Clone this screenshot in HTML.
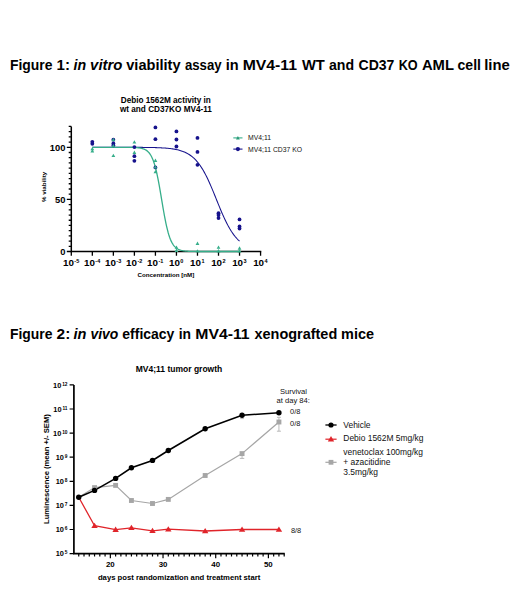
<!DOCTYPE html>
<html><head><meta charset="utf-8"><style>
html,body{margin:0;padding:0;background:#fff;}
body{width:520px;height:589px;overflow:hidden;position:relative;font-family:"Liberation Sans",sans-serif;}
svg{position:absolute;left:0;top:0;}
</style></head><body>
<svg width="520" height="589" viewBox="0 0 520 589">
<text x="9.97" y="70.3" font-family="'Liberation Sans', sans-serif" font-weight="bold" font-size="14.4" fill="#000" textLength="42.51" lengthAdjust="spacingAndGlyphs">Figure</text>
<text x="56.55" y="70.3" font-family="'Liberation Sans', sans-serif" font-weight="bold" font-size="14.4" fill="#000" textLength="13.40" lengthAdjust="spacingAndGlyphs">1:</text>
<text x="73.46" y="70.3" font-family="'Liberation Sans', sans-serif" font-weight="bold" font-style="italic" font-size="14.4" fill="#000" textLength="12.64" lengthAdjust="spacingAndGlyphs">in</text>
<text x="90.10" y="70.3" font-family="'Liberation Sans', sans-serif" font-weight="bold" font-style="italic" font-size="14.4" fill="#000" textLength="32.28" lengthAdjust="spacingAndGlyphs">vitro</text>
<text x="126.24" y="70.3" font-family="'Liberation Sans', sans-serif" font-weight="bold" font-size="14.4" fill="#000" textLength="54.34" lengthAdjust="spacingAndGlyphs">viability</text>
<text x="184.91" y="70.3" font-family="'Liberation Sans', sans-serif" font-weight="bold" font-size="14.4" fill="#000" textLength="36.76" lengthAdjust="spacingAndGlyphs">assay</text>
<text x="225.79" y="70.3" font-family="'Liberation Sans', sans-serif" font-weight="bold" font-size="14.4" fill="#000" textLength="12.92" lengthAdjust="spacingAndGlyphs">in</text>
<text x="242.66" y="70.3" font-family="'Liberation Sans', sans-serif" font-weight="bold" font-size="14.4" fill="#000" textLength="54.37" lengthAdjust="spacingAndGlyphs">MV4-11</text>
<text x="301.99" y="70.3" font-family="'Liberation Sans', sans-serif" font-weight="bold" font-size="14.4" fill="#000" textLength="22.87" lengthAdjust="spacingAndGlyphs">WT</text>
<text x="328.89" y="70.3" font-family="'Liberation Sans', sans-serif" font-weight="bold" font-size="14.4" fill="#000" textLength="25.15" lengthAdjust="spacingAndGlyphs">and</text>
<text x="358.52" y="70.3" font-family="'Liberation Sans', sans-serif" font-weight="bold" font-size="14.4" fill="#000" textLength="35.89" lengthAdjust="spacingAndGlyphs">CD37</text>
<text x="398.65" y="70.3" font-family="'Liberation Sans', sans-serif" font-weight="bold" font-size="14.4" fill="#000" textLength="18.98" lengthAdjust="spacingAndGlyphs">KO</text>
<text x="421.93" y="70.3" font-family="'Liberation Sans', sans-serif" font-weight="bold" font-size="14.4" fill="#000" textLength="32.02" lengthAdjust="spacingAndGlyphs">AML</text>
<text x="457.55" y="70.3" font-family="'Liberation Sans', sans-serif" font-weight="bold" font-size="14.4" fill="#000" textLength="23.44" lengthAdjust="spacingAndGlyphs">cell</text>
<text x="484.26" y="70.3" font-family="'Liberation Sans', sans-serif" font-weight="bold" font-size="14.4" fill="#000" textLength="25.54" lengthAdjust="spacingAndGlyphs">line</text>
<text x="9.97" y="338.8" font-family="'Liberation Sans', sans-serif" font-weight="bold" font-size="14.4" fill="#000" textLength="42.51" lengthAdjust="spacingAndGlyphs">Figure</text>
<text x="56.57" y="338.8" font-family="'Liberation Sans', sans-serif" font-weight="bold" font-size="14.4" fill="#000" textLength="13.72" lengthAdjust="spacingAndGlyphs">2:</text>
<text x="73.45" y="338.8" font-family="'Liberation Sans', sans-serif" font-weight="bold" font-style="italic" font-size="14.4" fill="#000" textLength="12.96" lengthAdjust="spacingAndGlyphs">in</text>
<text x="90.45" y="338.8" font-family="'Liberation Sans', sans-serif" font-weight="bold" font-style="italic" font-size="14.4" fill="#000" textLength="27.90" lengthAdjust="spacingAndGlyphs">vivo</text>
<text x="122.35" y="338.8" font-family="'Liberation Sans', sans-serif" font-weight="bold" font-size="14.4" fill="#000" textLength="52.02" lengthAdjust="spacingAndGlyphs">efficacy</text>
<text x="178.73" y="338.8" font-family="'Liberation Sans', sans-serif" font-weight="bold" font-size="14.4" fill="#000" textLength="12.33" lengthAdjust="spacingAndGlyphs">in</text>
<text x="195.26" y="338.8" font-family="'Liberation Sans', sans-serif" font-weight="bold" font-size="14.4" fill="#000" textLength="54.37" lengthAdjust="spacingAndGlyphs">MV4-11</text>
<text x="254.50" y="338.8" font-family="'Liberation Sans', sans-serif" font-weight="bold" font-size="14.4" fill="#000" textLength="82.75" lengthAdjust="spacingAndGlyphs">xenografted</text>
<text x="341.05" y="338.8" font-family="'Liberation Sans', sans-serif" font-weight="bold" font-size="14.4" fill="#000" textLength="32.95" lengthAdjust="spacingAndGlyphs">mice</text>
<text x="165.8" y="102.5" font-family="'Liberation Sans', sans-serif" font-weight="bold" font-size="8.2" fill="#000" text-anchor="middle">Debio 1562M activity in</text>
<text x="165.9" y="111.9" font-family="'Liberation Sans', sans-serif" font-weight="bold" font-size="8.2" fill="#000" text-anchor="middle">wt and CD37KO MV4-11</text>
<path d="M71.3,126.46 V251.5 H261.27" fill="none" stroke="#000" stroke-width="1.5"/>
<path d="M66.80,251.50 H71.3 M68.70,246.29 H71.3 M68.70,241.08 H71.3 M68.70,235.87 H71.3 M68.70,230.66 H71.3 M68.70,225.45 H71.3 M68.70,220.24 H71.3 M68.70,215.03 H71.3 M68.70,209.82 H71.3 M68.70,204.61 H71.3 M66.80,199.40 H71.3 M68.70,194.19 H71.3 M68.70,188.98 H71.3 M68.70,183.77 H71.3 M68.70,178.56 H71.3 M68.70,173.35 H71.3 M68.70,168.14 H71.3 M68.70,162.93 H71.3 M68.70,157.72 H71.3 M68.70,152.51 H71.3 M66.80,147.30 H71.3 M68.70,142.09 H71.3 M68.70,136.88 H71.3 M68.70,131.67 H71.3 M68.70,126.46 H71.3 M71.30,251.5 V255.70 M92.33,251.5 V255.70 M113.36,251.5 V255.70 M134.39,251.5 V255.70 M155.42,251.5 V255.70 M176.45,251.5 V255.70 M197.48,251.5 V255.70 M218.51,251.5 V255.70 M239.54,251.5 V255.70 M260.57,251.5 V255.70" stroke="#000" stroke-width="1.3" fill="none"/>
<text x="65.5" y="254.90" font-family="'Liberation Sans', sans-serif" font-weight="bold" font-size="9.4" fill="#000" text-anchor="end">0</text>
<text x="65.5" y="202.80" font-family="'Liberation Sans', sans-serif" font-weight="bold" font-size="9.4" fill="#000" text-anchor="end">50</text>
<text x="65.5" y="150.70" font-family="'Liberation Sans', sans-serif" font-weight="bold" font-size="9.4" fill="#000" text-anchor="end">100</text>
<text x="71.10" y="266.3" font-family="'Liberation Sans', sans-serif" font-weight="bold" font-size="9.8" fill="#000" text-anchor="middle">10<tspan dx="0.4" dy="-3.6" font-size="5.5">-5</tspan></text>
<text x="92.13" y="266.3" font-family="'Liberation Sans', sans-serif" font-weight="bold" font-size="9.8" fill="#000" text-anchor="middle">10<tspan dx="0.4" dy="-3.6" font-size="5.5">-4</tspan></text>
<text x="113.16" y="266.3" font-family="'Liberation Sans', sans-serif" font-weight="bold" font-size="9.8" fill="#000" text-anchor="middle">10<tspan dx="0.4" dy="-3.6" font-size="5.5">-3</tspan></text>
<text x="134.19" y="266.3" font-family="'Liberation Sans', sans-serif" font-weight="bold" font-size="9.8" fill="#000" text-anchor="middle">10<tspan dx="0.4" dy="-3.6" font-size="5.5">-2</tspan></text>
<text x="155.22" y="266.3" font-family="'Liberation Sans', sans-serif" font-weight="bold" font-size="9.8" fill="#000" text-anchor="middle">10<tspan dx="0.4" dy="-3.6" font-size="5.5">-1</tspan></text>
<text x="176.25" y="266.3" font-family="'Liberation Sans', sans-serif" font-weight="bold" font-size="9.8" fill="#000" text-anchor="middle">10<tspan dx="0.4" dy="-3.6" font-size="5.5">0</tspan></text>
<text x="197.28" y="266.3" font-family="'Liberation Sans', sans-serif" font-weight="bold" font-size="9.8" fill="#000" text-anchor="middle">10<tspan dx="0.4" dy="-3.6" font-size="5.5">1</tspan></text>
<text x="218.31" y="266.3" font-family="'Liberation Sans', sans-serif" font-weight="bold" font-size="9.8" fill="#000" text-anchor="middle">10<tspan dx="0.4" dy="-3.6" font-size="5.5">2</tspan></text>
<text x="239.34" y="266.3" font-family="'Liberation Sans', sans-serif" font-weight="bold" font-size="9.8" fill="#000" text-anchor="middle">10<tspan dx="0.4" dy="-3.6" font-size="5.5">3</tspan></text>
<text x="260.37" y="266.3" font-family="'Liberation Sans', sans-serif" font-weight="bold" font-size="9.8" fill="#000" text-anchor="middle">10<tspan dx="0.4" dy="-3.6" font-size="5.5">4</tspan></text>
<text x="165.9" y="276.6" font-family="'Liberation Sans', sans-serif" font-weight="bold" font-size="6.2" fill="#000" text-anchor="middle">Concentration [nM]</text>
<text transform="translate(45.7,186.9) rotate(-90)" font-family="'Liberation Sans', sans-serif" font-weight="bold" font-size="6.2" fill="#000" text-anchor="middle">% viability</text>
<path d="M92.33,147.30 L93.07,147.30 L93.80,147.30 L94.54,147.30 L95.27,147.30 L96.01,147.30 L96.75,147.30 L97.48,147.30 L98.22,147.30 L98.95,147.30 L99.69,147.30 L100.43,147.30 L101.16,147.30 L101.90,147.30 L102.63,147.30 L103.37,147.30 L104.11,147.30 L104.84,147.30 L105.58,147.30 L106.31,147.30 L107.05,147.30 L107.79,147.30 L108.52,147.30 L109.26,147.30 L110.00,147.30 L110.73,147.30 L111.47,147.30 L112.20,147.31 L112.94,147.31 L113.68,147.31 L114.41,147.31 L115.15,147.31 L115.88,147.31 L116.62,147.31 L117.36,147.31 L118.09,147.31 L118.83,147.31 L119.56,147.31 L120.30,147.31 L121.04,147.31 L121.77,147.31 L122.51,147.31 L123.24,147.31 L123.98,147.32 L124.72,147.32 L125.45,147.32 L126.19,147.32 L126.92,147.32 L127.66,147.32 L128.40,147.32 L129.13,147.33 L129.87,147.33 L130.60,147.33 L131.34,147.33 L132.08,147.33 L132.81,147.34 L133.55,147.34 L134.28,147.34 L135.02,147.34 L135.76,147.35 L136.49,147.35 L137.23,147.36 L137.97,147.36 L138.70,147.36 L139.44,147.37 L140.17,147.37 L140.91,147.38 L141.65,147.38 L142.38,147.39 L143.12,147.40 L143.85,147.40 L144.59,147.41 L145.33,147.42 L146.06,147.43 L146.80,147.44 L147.53,147.45 L148.27,147.46 L149.01,147.47 L149.74,147.48 L150.48,147.49 L151.21,147.51 L151.95,147.52 L152.69,147.54 L153.42,147.56 L154.16,147.58 L154.89,147.60 L155.63,147.62 L156.37,147.64 L157.10,147.67 L157.84,147.69 L158.57,147.72 L159.31,147.75 L160.05,147.78 L160.78,147.82 L161.52,147.86 L162.25,147.90 L162.99,147.94 L163.73,147.98 L164.46,148.03 L165.20,148.09 L165.94,148.14 L166.67,148.20 L167.41,148.27 L168.14,148.34 L168.88,148.41 L169.62,148.49 L170.35,148.58 L171.09,148.67 L171.82,148.77 L172.56,148.88 L173.30,148.99 L174.03,149.11 L174.77,149.24 L175.50,149.37 L176.24,149.52 L176.98,149.68 L177.71,149.85 L178.45,150.03 L179.18,150.22 L179.92,150.43 L180.66,150.65 L181.39,150.88 L182.13,151.13 L182.86,151.40 L183.60,151.69 L184.34,151.99 L185.07,152.31 L185.81,152.66 L186.54,153.03 L187.28,153.42 L188.02,153.83 L188.75,154.28 L189.49,154.75 L190.22,155.25 L190.96,155.78 L191.70,156.34 L192.43,156.94 L193.17,157.57 L193.90,158.23 L194.64,158.94 L195.38,159.69 L196.11,160.47 L196.85,161.30 L197.59,162.17 L198.32,163.09 L199.06,164.05 L199.79,165.06 L200.53,166.12 L201.27,167.22 L202.00,168.38 L202.74,169.58 L203.47,170.83 L204.21,172.13 L204.95,173.48 L205.68,174.88 L206.42,176.33 L207.15,177.82 L207.89,179.35 L208.63,180.93 L209.36,182.55 L210.10,184.20 L210.83,185.89 L211.57,187.61 L212.31,189.35 L213.04,191.12 L213.78,192.91 L214.51,194.72 L215.25,196.53 L215.99,198.36 L216.72,200.18 L217.46,202.01 L218.19,203.83 L218.93,205.63 L219.67,207.42 L220.40,209.20 L221.14,210.95 L221.87,212.67 L222.61,214.36 L223.35,216.02 L224.08,217.64 L224.82,219.22 L225.56,220.77 L226.29,222.26 L227.03,223.71 L227.76,225.12 L228.50,226.48 L229.24,227.79 L229.97,229.05 L230.71,230.26 L231.44,231.42 L232.18,232.53 L232.92,233.59 L233.65,234.61 L234.39,235.58 L235.12,236.50 L235.86,237.38 L236.60,238.21 L237.33,239.00 L238.07,239.76 L238.80,240.47 L239.54,241.14" fill="none" stroke="#16128c" stroke-width="1.05"/>
<path d="M92.33,147.30 L93.07,147.30 L93.80,147.30 L94.54,147.30 L95.27,147.30 L96.01,147.30 L96.75,147.30 L97.48,147.30 L98.22,147.30 L98.95,147.30 L99.69,147.30 L100.43,147.30 L101.16,147.30 L101.90,147.30 L102.63,147.30 L103.37,147.30 L104.11,147.30 L104.84,147.30 L105.58,147.30 L106.31,147.30 L107.05,147.30 L107.79,147.30 L108.52,147.30 L109.26,147.30 L110.00,147.30 L110.73,147.30 L111.47,147.30 L112.20,147.30 L112.94,147.30 L113.68,147.30 L114.41,147.30 L115.15,147.30 L115.88,147.30 L116.62,147.30 L117.36,147.30 L118.09,147.30 L118.83,147.31 L119.56,147.31 L120.30,147.31 L121.04,147.31 L121.77,147.31 L122.51,147.31 L123.24,147.32 L123.98,147.32 L124.72,147.32 L125.45,147.33 L126.19,147.33 L126.92,147.34 L127.66,147.34 L128.40,147.35 L129.13,147.36 L129.87,147.37 L130.60,147.38 L131.34,147.40 L132.08,147.42 L132.81,147.44 L133.55,147.46 L134.28,147.49 L135.02,147.53 L135.76,147.57 L136.49,147.62 L137.23,147.68 L137.97,147.75 L138.70,147.83 L139.44,147.93 L140.17,148.05 L140.91,148.18 L141.65,148.34 L142.38,148.53 L143.12,148.76 L143.85,149.02 L144.59,149.33 L145.33,149.70 L146.06,150.13 L146.80,150.64 L147.53,151.23 L148.27,151.92 L149.01,152.73 L149.74,153.67 L150.48,154.76 L151.21,156.02 L151.95,157.47 L152.69,159.13 L153.42,161.03 L154.16,163.17 L154.89,165.58 L155.63,168.28 L156.37,171.26 L157.10,174.52 L157.84,178.06 L158.57,181.85 L159.31,185.86 L160.05,190.05 L160.78,194.38 L161.52,198.77 L162.25,203.17 L162.99,207.52 L163.73,211.76 L164.46,215.83 L165.20,219.68 L165.94,223.30 L166.67,226.64 L167.41,229.70 L168.14,232.48 L168.88,234.97 L169.62,237.19 L170.35,239.15 L171.09,240.88 L171.82,242.39 L172.56,243.70 L173.30,244.84 L174.03,245.82 L174.77,246.66 L175.50,247.39 L176.24,248.00 L176.98,248.53 L177.71,248.98 L178.45,249.37 L179.18,249.69 L179.92,249.97 L180.66,250.21 L181.39,250.41 L182.13,250.57 L182.86,250.72 L183.60,250.84 L184.34,250.94 L185.07,251.03 L185.81,251.10 L186.54,251.16 L187.28,251.22 L188.02,251.26 L188.75,251.30 L189.49,251.33 L190.22,251.36 L190.96,251.38 L191.70,251.40 L192.43,251.41 L193.17,251.43 L193.90,251.44 L194.64,251.45 L195.38,251.46 L196.11,251.46 L196.85,251.47 L197.59,251.47 L198.32,251.48 L199.06,251.48 L199.79,251.48 L200.53,251.49 L201.27,251.49 L202.00,251.49 L202.74,251.49 L203.47,251.49 L204.21,251.49 L204.95,251.50 L205.68,251.50 L206.42,251.50 L207.15,251.50 L207.89,251.50 L208.63,251.50 L209.36,251.50 L210.10,251.50 L210.83,251.50 L211.57,251.50 L212.31,251.50 L213.04,251.50 L213.78,251.50 L214.51,251.50 L215.25,251.50 L215.99,251.50 L216.72,251.50 L217.46,251.50 L218.19,251.50 L218.93,251.50 L219.67,251.50 L220.40,251.50 L221.14,251.50 L221.87,251.50 L222.61,251.50 L223.35,251.50 L224.08,251.50 L224.82,251.50 L225.56,251.50 L226.29,251.50 L227.03,251.50 L227.76,251.50 L228.50,251.50 L229.24,251.50 L229.97,251.50 L230.71,251.50 L231.44,251.50 L232.18,251.50 L232.92,251.50 L233.65,251.50 L234.39,251.50 L235.12,251.50 L235.86,251.50 L236.60,251.50 L237.33,251.50 L238.07,251.50 L238.80,251.50 L239.54,251.50" fill="none" stroke="#36ae8a" stroke-width="1.3"/>
<ellipse cx="92.33" cy="141.80" rx="1.9" ry="1.9" fill="#16128c"/>
<ellipse cx="92.33" cy="143.80" rx="1.9" ry="1.9" fill="#16128c"/>
<ellipse cx="113.36" cy="139.70" rx="1.9" ry="1.9" fill="#16128c"/>
<ellipse cx="113.36" cy="143.50" rx="1.9" ry="1.9" fill="#16128c"/>
<ellipse cx="113.36" cy="145.50" rx="1.9" ry="1.9" fill="#16128c"/>
<ellipse cx="134.39" cy="147.10" rx="1.9" ry="1.9" fill="#16128c"/>
<ellipse cx="134.39" cy="156.20" rx="1.9" ry="1.9" fill="#16128c"/>
<ellipse cx="134.39" cy="160.80" rx="1.9" ry="1.9" fill="#16128c"/>
<ellipse cx="155.42" cy="127.40" rx="1.9" ry="1.9" fill="#16128c"/>
<ellipse cx="155.42" cy="139.20" rx="1.9" ry="1.9" fill="#16128c"/>
<ellipse cx="155.42" cy="167.40" rx="1.9" ry="1.9" fill="#16128c"/>
<ellipse cx="176.45" cy="131.40" rx="1.9" ry="1.9" fill="#16128c"/>
<ellipse cx="176.45" cy="139.50" rx="1.9" ry="1.9" fill="#16128c"/>
<ellipse cx="176.45" cy="146.50" rx="1.9" ry="1.9" fill="#16128c"/>
<ellipse cx="197.48" cy="137.90" rx="1.9" ry="1.9" fill="#16128c"/>
<ellipse cx="197.48" cy="151.90" rx="1.9" ry="1.9" fill="#16128c"/>
<ellipse cx="197.48" cy="164.80" rx="1.9" ry="1.9" fill="#16128c"/>
<ellipse cx="218.51" cy="213.20" rx="1.9" ry="1.9" fill="#16128c"/>
<ellipse cx="218.51" cy="215.10" rx="1.9" ry="1.9" fill="#16128c"/>
<ellipse cx="218.51" cy="218.00" rx="1.9" ry="1.9" fill="#16128c"/>
<ellipse cx="239.54" cy="219.40" rx="1.9" ry="1.9" fill="#16128c"/>
<ellipse cx="239.54" cy="226.50" rx="1.9" ry="1.9" fill="#16128c"/>
<ellipse cx="239.54" cy="228.50" rx="1.9" ry="1.9" fill="#16128c"/>
<path d="M90.43,150.30 L92.33,146.90 L94.23,150.30Z" fill="#36ae8a"/>
<path d="M90.43,152.40 L92.33,149.00 L94.23,152.40Z" fill="#36ae8a"/>
<path d="M111.46,141.20 L113.36,137.80 L115.26,141.20Z" fill="#36ae8a"/>
<path d="M111.46,147.40 L113.36,144.00 L115.26,147.40Z" fill="#36ae8a"/>
<path d="M111.46,157.10 L113.36,153.70 L115.26,157.10Z" fill="#36ae8a"/>
<path d="M132.49,143.60 L134.39,140.20 L136.29,143.60Z" fill="#36ae8a"/>
<path d="M132.49,153.90 L134.39,150.50 L136.29,153.90Z" fill="#36ae8a"/>
<path d="M153.52,161.90 L155.42,158.50 L157.32,161.90Z" fill="#36ae8a"/>
<path d="M153.52,168.60 L155.42,165.20 L157.32,168.60Z" fill="#36ae8a"/>
<path d="M153.52,173.30 L155.42,169.90 L157.32,173.30Z" fill="#36ae8a"/>
<path d="M174.55,248.80 L176.45,245.40 L178.35,248.80Z" fill="#36ae8a"/>
<path d="M174.55,252.00 L176.45,248.60 L178.35,252.00Z" fill="#36ae8a"/>
<path d="M195.58,245.00 L197.48,241.60 L199.38,245.00Z" fill="#36ae8a"/>
<path d="M195.58,252.60 L197.48,249.20 L199.38,252.60Z" fill="#36ae8a"/>
<path d="M216.61,248.80 L218.51,245.40 L220.41,248.80Z" fill="#36ae8a"/>
<path d="M216.61,252.50 L218.51,249.10 L220.41,252.50Z" fill="#36ae8a"/>
<path d="M237.64,249.70 L239.54,246.30 L241.44,249.70Z" fill="#36ae8a"/>
<path d="M237.64,252.50 L239.54,249.10 L241.44,252.50Z" fill="#36ae8a"/>
<path d="M233.3,137.9 H242.5" stroke="#36ae8a" stroke-width="1.1"/>
<path d="M236.0,139.4 L237.9,136.0 L239.8,139.4Z" fill="#2a9a78"/>
<path d="M233.3,149.1 H242.5" stroke="#16128c" stroke-width="1.1"/>
<circle cx="237.9" cy="149.1" r="2.1" fill="#16128c"/>
<text x="248.1" y="140.3" font-family="'Liberation Sans', sans-serif" font-size="6.8" fill="#111">MV4;11</text>
<text x="248.1" y="151.5" font-family="'Liberation Sans', sans-serif" font-size="6.8" fill="#111">MV4;11 CD37 KO</text>
<path d="M73.9,384.90 V553.6 H284.72" fill="none" stroke="#000" stroke-width="1.7"/>
<path d="M69.60,553.60 H73.9 M69.60,529.50 H73.9 M69.60,505.40 H73.9 M69.60,481.30 H73.9 M69.60,457.20 H73.9 M69.60,433.10 H73.9 M69.60,409.00 H73.9 M69.60,384.90 H73.9 M78.74,553.6 V556.40 M84.01,553.6 V556.40 M89.28,553.6 V556.40 M94.55,553.6 V556.40 M99.81,553.6 V556.40 M105.08,553.6 V556.40 M110.35,553.6 V558.20 M115.62,553.6 V556.40 M120.89,553.6 V556.40 M126.15,553.6 V556.40 M131.42,553.6 V556.40 M136.69,553.6 V556.40 M141.96,553.6 V556.40 M147.23,553.6 V556.40 M152.49,553.6 V556.40 M157.76,553.6 V556.40 M163.03,553.6 V558.20 M168.30,553.6 V556.40 M173.57,553.6 V556.40 M178.83,553.6 V556.40 M184.10,553.6 V556.40 M189.37,553.6 V556.40 M194.64,553.6 V556.40 M199.91,553.6 V556.40 M205.17,553.6 V556.40 M210.44,553.6 V556.40 M215.71,553.6 V558.20 M220.98,553.6 V556.40 M226.25,553.6 V556.40 M231.51,553.6 V556.40 M236.78,553.6 V556.40 M242.05,553.6 V556.40 M247.32,553.6 V556.40 M252.59,553.6 V556.40 M257.85,553.6 V556.40 M263.12,553.6 V556.40 M268.39,553.6 V558.20 M273.66,553.6 V556.40 M278.93,553.6 V556.40 M284.19,553.6 V556.40" stroke="#000" stroke-width="1.2" fill="none"/>
<text x="67.5" y="556.40" font-family="'Liberation Sans', sans-serif" font-weight="bold" font-size="7.4" fill="#000" text-anchor="end">10<tspan dx="0.9" dy="-2.0" font-size="4.8">5</tspan></text>
<text x="67.5" y="532.30" font-family="'Liberation Sans', sans-serif" font-weight="bold" font-size="7.4" fill="#000" text-anchor="end">10<tspan dx="0.9" dy="-2.0" font-size="4.8">6</tspan></text>
<text x="67.5" y="508.20" font-family="'Liberation Sans', sans-serif" font-weight="bold" font-size="7.4" fill="#000" text-anchor="end">10<tspan dx="0.9" dy="-2.0" font-size="4.8">7</tspan></text>
<text x="67.5" y="484.10" font-family="'Liberation Sans', sans-serif" font-weight="bold" font-size="7.4" fill="#000" text-anchor="end">10<tspan dx="0.9" dy="-2.0" font-size="4.8">8</tspan></text>
<text x="67.5" y="460.00" font-family="'Liberation Sans', sans-serif" font-weight="bold" font-size="7.4" fill="#000" text-anchor="end">10<tspan dx="0.9" dy="-2.0" font-size="4.8">9</tspan></text>
<text x="67.5" y="435.90" font-family="'Liberation Sans', sans-serif" font-weight="bold" font-size="7.4" fill="#000" text-anchor="end">10<tspan dx="0.9" dy="-2.0" font-size="4.8">10</tspan></text>
<text x="67.5" y="411.80" font-family="'Liberation Sans', sans-serif" font-weight="bold" font-size="7.4" fill="#000" text-anchor="end">10<tspan dx="0.9" dy="-2.0" font-size="4.8">11</tspan></text>
<text x="67.5" y="387.70" font-family="'Liberation Sans', sans-serif" font-weight="bold" font-size="7.4" fill="#000" text-anchor="end">10<tspan dx="0.9" dy="-2.0" font-size="4.8">12</tspan></text>
<text x="110.35" y="566.7" font-family="'Liberation Sans', sans-serif" font-weight="bold" font-size="7.9" fill="#000" text-anchor="middle">20</text>
<text x="163.03" y="566.7" font-family="'Liberation Sans', sans-serif" font-weight="bold" font-size="7.9" fill="#000" text-anchor="middle">30</text>
<text x="215.71" y="566.7" font-family="'Liberation Sans', sans-serif" font-weight="bold" font-size="7.9" fill="#000" text-anchor="middle">40</text>
<text x="268.39" y="566.7" font-family="'Liberation Sans', sans-serif" font-weight="bold" font-size="7.9" fill="#000" text-anchor="middle">50</text>
<text x="179.1" y="579.5" font-family="'Liberation Sans', sans-serif" font-weight="bold" font-size="7.7" fill="#000" text-anchor="middle">days post randomization and treatment start</text>
<text transform="translate(48.5,469.1) rotate(-90)" font-family="'Liberation Sans', sans-serif" font-weight="bold" font-size="8.0" fill="#000" text-anchor="middle" textLength="109.8" lengthAdjust="spacingAndGlyphs">Luminescence (mean +/- SEM)</text>
<text x="179.0" y="371.8" font-family="'Liberation Sans', sans-serif" font-weight="bold" font-size="8.5" fill="#000" text-anchor="middle">MV4;11 tumor growth</text>
<path d="M78.74,497.30 L94.55,487.60 L115.62,485.40 L131.42,500.50 L152.49,503.50 L168.30,499.40 L205.17,475.50 L242.05,453.60 L278.93,422.00" fill="none" stroke="#a6a6a6" stroke-width="1.2"/>
<path d="M78.74,497.30 L94.55,525.70 L115.62,529.60 L131.42,527.80 L152.49,530.80 L168.30,529.20 L205.17,531.00 L242.05,529.50 L278.93,529.50" fill="none" stroke="#e0242a" stroke-width="1.3"/>
<path d="M78.74,497.30 L94.55,490.40 L115.62,478.40 L131.42,467.80 L152.49,460.40 L168.30,450.50 L205.17,428.70 L242.05,415.30 L278.93,412.70" fill="none" stroke="#000" stroke-width="1.6"/>
<path d="M278.93,417.3 V431.2 M276.93,431.2 h4 M276.93,417.3 h4 M242.05,453.6 V458.4 M239.85,458.4 h4.4 M242.05,415.3 V418.6 M240.25,418.6 h3.6" stroke="#aaa" stroke-width="0.8" fill="none"/>
<rect x="92.10" y="485.15" width="4.9" height="4.9" fill="#a6a6a6"/>
<rect x="113.17" y="482.95" width="4.9" height="4.9" fill="#a6a6a6"/>
<rect x="128.97" y="498.05" width="4.9" height="4.9" fill="#a6a6a6"/>
<rect x="150.04" y="501.05" width="4.9" height="4.9" fill="#a6a6a6"/>
<rect x="165.85" y="496.95" width="4.9" height="4.9" fill="#a6a6a6"/>
<rect x="202.72" y="473.05" width="4.9" height="4.9" fill="#a6a6a6"/>
<rect x="239.60" y="451.15" width="4.9" height="4.9" fill="#a6a6a6"/>
<rect x="276.48" y="419.55" width="4.9" height="4.9" fill="#a6a6a6"/>
<path d="M91.35,528.00 L94.55,522.70 L97.75,528.00Z" fill="#e0242a"/>
<path d="M112.42,531.90 L115.62,526.60 L118.82,531.90Z" fill="#e0242a"/>
<path d="M128.22,530.10 L131.42,524.80 L134.62,530.10Z" fill="#e0242a"/>
<path d="M149.29,533.10 L152.49,527.80 L155.69,533.10Z" fill="#e0242a"/>
<path d="M165.10,531.50 L168.30,526.20 L171.50,531.50Z" fill="#e0242a"/>
<path d="M201.97,533.30 L205.17,528.00 L208.37,533.30Z" fill="#e0242a"/>
<path d="M238.85,531.80 L242.05,526.50 L245.25,531.80Z" fill="#e0242a"/>
<path d="M275.73,531.80 L278.93,526.50 L282.13,531.80Z" fill="#e0242a"/>
<circle cx="78.74" cy="497.30" r="2.7" fill="#000"/>
<circle cx="94.55" cy="490.40" r="2.7" fill="#000"/>
<circle cx="115.62" cy="478.40" r="2.7" fill="#000"/>
<circle cx="131.42" cy="467.80" r="2.7" fill="#000"/>
<circle cx="152.49" cy="460.40" r="2.7" fill="#000"/>
<circle cx="168.30" cy="450.50" r="2.7" fill="#000"/>
<circle cx="205.17" cy="428.70" r="2.7" fill="#000"/>
<circle cx="242.05" cy="415.30" r="2.7" fill="#000"/>
<circle cx="278.93" cy="412.70" r="2.7" fill="#000"/>
<text x="293.5" y="394.1" font-family="'Liberation Sans', sans-serif" font-size="7.6" fill="#111" text-anchor="middle">Survival</text>
<text x="293.2" y="402.9" font-family="'Liberation Sans', sans-serif" font-size="7.6" fill="#111" text-anchor="middle">at day 84:</text>
<text x="290.1" y="414.4" font-family="'Liberation Sans', sans-serif" font-size="7.4" fill="#111">0/8</text>
<text x="290.1" y="425.9" font-family="'Liberation Sans', sans-serif" font-size="7.4" fill="#111">0/8</text>
<text x="290.9" y="532.6" font-family="'Liberation Sans', sans-serif" font-size="7.4" fill="#111">8/8</text>
<path d="M325.4,425 H336.6" stroke="#000" stroke-width="1.3"/>
<circle cx="331" cy="425" r="2.6" fill="#000"/>
<path d="M325.4,439.2 H336.6" stroke="#e0242a" stroke-width="1.2"/>
<path d="M327.8,441.5 L331,435.9 L334.2,441.5Z" fill="#e0242a"/>
<path d="M325.4,462.3 H336.6" stroke="#a6a6a6" stroke-width="1.2"/>
<rect x="328.6" y="459.9" width="4.8" height="4.8" fill="#a6a6a6"/>
<text x="343.3" y="427.6" font-family="'Liberation Sans', sans-serif" font-size="8.45" fill="#111">Vehicle</text>
<text x="343.3" y="441.4" font-family="'Liberation Sans', sans-serif" font-size="8.45" fill="#111">Debio 1562M 5mg/kg</text>
<text x="343.3" y="454.9" font-family="'Liberation Sans', sans-serif" font-size="8.45" fill="#111">venetoclax 100mg/kg</text>
<text x="343.3" y="464.5" font-family="'Liberation Sans', sans-serif" font-size="8.45" fill="#111">+ azacitidine</text>
<text x="343.3" y="474.7" font-family="'Liberation Sans', sans-serif" font-size="8.45" fill="#111">3.5mg/kg</text>
</svg>
</body></html>
